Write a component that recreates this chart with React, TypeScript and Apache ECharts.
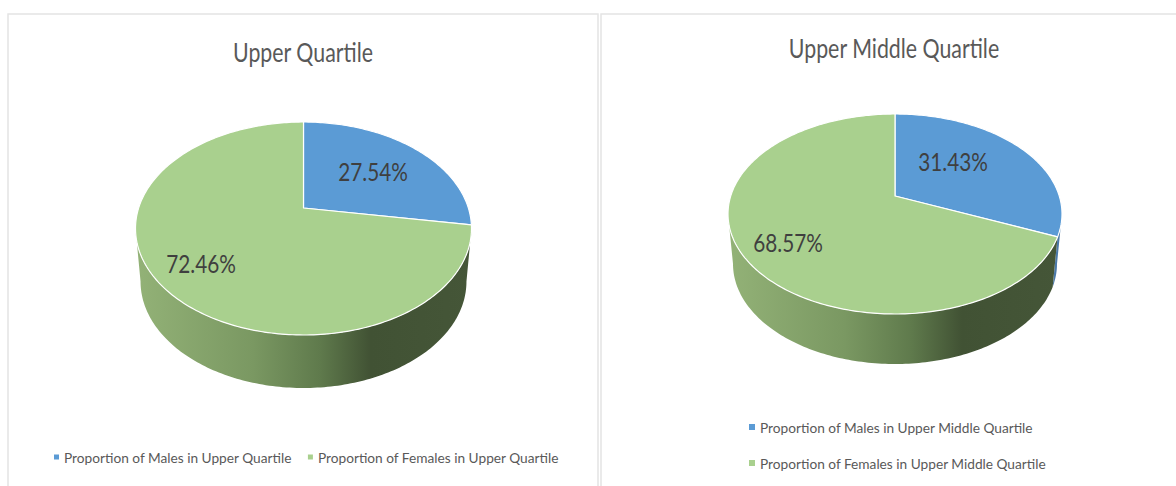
import React, { useEffect, useRef } from "react";
import * as echarts from "echarts";

const panelTitles = ["Upper Quartile", "Upper Middle Quartile"];
const maleShares = [27.54, 31.43];
const femaleShares = [72.46, 68.57];
const maleNames = ["Proportion of Males in Upper Quartile", "Proportion of Males in Upper Middle Quartile"];
const femaleNames = ["Proportion of Females in Upper Quartile", "Proportion of Females in Upper Middle Quartile"];

const BLUE = "#5b9bd5";
const GREEN = "#a9d08e";
const FONT = 'Lato, "Liberation Sans", sans-serif';

const geometry = [
  { cx: 303.5, apex: 208, up: 86, down: 127, rx: 168, depth: 53, labels: [[373, 171], [201, 263]], title: [303, 51] },
  { cx: 895, apex: 196, up: 82, down: 118, rx: 167, depth: 50, labels: [[953, 161], [788, 242]], title: [894, 47] },
];
const BOTTOM_SCALE = 0.97;

function projector(g: any) {
  const p = (g.down - g.up) / (g.down + g.up);
  const h = g.up * (1 + p);
  const w = g.rx * Math.sqrt(1 - p * p);
  const at = (deg: number, bottom: boolean): number[] => {
    const t = (deg * Math.PI) / 180;
    const X = Math.sin(t);
    const Y = Math.cos(t);
    const d = 1 + p * Y;
    return [
      g.cx + ((bottom ? BOTTOM_SCALE : 1) * w * X) / d,
      g.apex - (h * Y) / d + (bottom ? g.depth : 0),
    ];
  };
  return { at, tangent: (Math.acos(-p) * 180) / Math.PI };
}

function arc(at: (d: number, b: boolean) => number[], a: number, b: number, bottom: boolean) {
  const n = Math.max(2, Math.ceil(Math.abs(b - a)));
  const pts: number[][] = [];
  for (let i = 0; i <= n; i++) pts.push(at(a + ((b - a) * i) / n, bottom));
  return pts;
}

function sliceSeries(name: string, panel: number, value: number, startShare: number, color: string, wallStops: any[], labelIdx: number) {
  const g = geometry[panel];
  return {
    type: "custom",
    name,
    coordinateSystem: "none",
    silent: true,
    itemStyle: { color },
    data: [[value, startShare]],
    renderItem: (_params: any, api: any) => {
      const v = api.value(0) as number;
      const s = api.value(1) as number;
      const a = (s / 100) * 360;
      const b = ((s + v) / 100) * 360;
      const { at, tangent } = projector(g);
      const children: any[] = [];
      const wa = Math.max(a, tangent);
      const wb = Math.min(b, 360 - tangent);
      if (wa < wb) {
        children.push({
          type: "polygon",
          shape: { points: [...arc(at, wa, wb, false), ...arc(at, wb, wa, true)] },
          style: {
            fill: new echarts.graphic.LinearGradient(g.cx - g.rx, 0, g.cx + g.rx, 0, wallStops, true),
            stroke: null,
          },
        });
      }
      children.push({
        type: "polygon",
        shape: { points: [[g.cx, g.apex], ...arc(at, a, b, false)] },
        style: { fill: color, stroke: "#ffffff", lineWidth: 1.2, lineJoin: "round" },
      });
      const [lx, ly] = g.labels[labelIdx];
      children.push({
        type: "text",
        x: lx,
        y: ly,
        scaleX: 0.83,
        style: {
          text: `${v.toFixed(2)}%`,
          fill: "#3f3f3f",
          font: `25px ${FONT}`,
          align: "center",
          verticalAlign: "middle",
        },
      });
      return { type: "group", children };
    },
  };
}

const greenWall = [
  { offset: 0, color: "#93b277" },
  { offset: 0.35, color: "#7a9862" },
  { offset: 0.55, color: "#5f7a4c" },
  { offset: 0.7, color: "#415234" },
  { offset: 1, color: "#455638" },
];
const blueWall = [
  { offset: 0, color: "#5b9bd5" },
  { offset: 1, color: "#4a78a8" },
];

export default function App() {
  const ref = useRef<HTMLDivElement>(null);
  useEffect(() => {
    const chart = echarts.init(ref.current!, null, { renderer: "svg" });
    const legendText = { color: "#595959", fontFamily: FONT, fontSize: 13.7 };
    chart.setOption({
      animation: false,
      backgroundColor: "#ffffff",
      legend: [
        {
          data: [maleNames[0], femaleNames[0]],
          left: 54,
          top: 450,
          padding: 0,
          orient: "horizontal",
          icon: "rect",
          itemWidth: 5,
          itemHeight: 5,
          itemGap: 16,
          selectedMode: false,
          textStyle: legendText,
        },
        {
          data: [maleNames[1], femaleNames[1]],
          left: 749,
          top: 420,
          padding: 0,
          orient: "vertical",
          icon: "rect",
          itemWidth: 6,
          itemHeight: 6,
          itemGap: 22,
          selectedMode: false,
          textStyle: legendText,
        },
      ],
      graphic: [
        { type: "polyline", silent: true, shape: { points: [[8, 486], [8, 14], [598, 14], [598, 486]] }, style: { stroke: "#e4e4e4", lineWidth: 1.5, fill: null } },
        { type: "polyline", silent: true, shape: { points: [[601, 486], [601, 14], [1176, 14]] }, style: { stroke: "#e4e4e4", lineWidth: 1.5, fill: null } },
        ...panelTitles.map((t, i) => ({
          type: "text",
          silent: true,
          x: geometry[i].title[0],
          y: geometry[i].title[1],
          scaleX: 0.79,
          style: { text: t, fill: "#595959", font: `27px ${FONT}`, align: "center", verticalAlign: "middle" },
        })),
      ],
      series: [0, 1].flatMap((i) => [
        sliceSeries(maleNames[i], i, maleShares[i], 0, BLUE, blueWall, 0),
        sliceSeries(femaleNames[i], i, femaleShares[i], maleShares[i], GREEN, greenWall, 1),
      ]),
    });
    return () => chart.dispose();
  }, []);
  return <div ref={ref} style={{ position: "absolute", left: 0, top: 0, width: 1176, height: 486 }} />;
}
